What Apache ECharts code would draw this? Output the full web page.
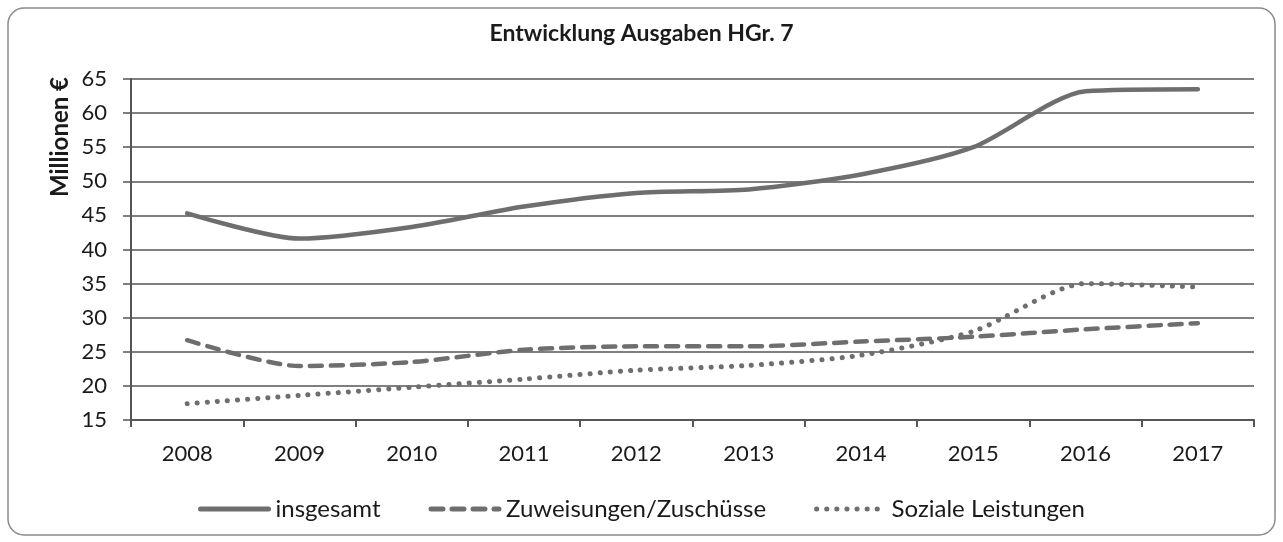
<!DOCTYPE html>
<html>
<head>
<meta charset="utf-8">
<script src="https://cdn.jsdelivr.net/npm/echarts@6/dist/echarts.min.js"></script>
<style>
  html, body { margin: 0; padding: 0; background: #fff; }
  #chart { width: 1283px; height: 542px; }
</style>
</head>
<body>
<div id="chart"></div>
<script>
const years = ['2008', '2009', '2010', '2011', '2012', '2013', '2014', '2015', '2016', '2017']
const insgesamt = [45.3, 41.6, 43.3, 46.3, 48.3, 48.8, 51.0, 55.0, 63.2, 63.5]
const zuweisungen = [26.7, 22.9, 23.5, 25.3, 25.8, 25.8, 26.5, 27.2, 28.3, 29.2]
const soziale = [17.4, 18.6, 19.8, 21.0, 22.3, 23.0, 24.5, 28.0, 35.0, 34.5]
const yTicks = { min: 15, max: 65, interval: 5 }

const font = 'Lato, "Open Sans", sans-serif'
const grey = '#6e6e6e'

const chart = echarts.init(document.getElementById('chart'))

function lineSeries(name, data, dash, width) {
  return {
    name: name,
    type: 'line',
    data: data,
    smooth: 0.25,
    symbol: 'none',
    lineStyle: { color: grey, width: width, type: dash, cap: 'round' },
    itemStyle: { color: grey }
  }
}

chart.setOption({
  backgroundColor: '#fff',
  animation: false,
  title: {
    text: 'Entwicklung Ausgaben HGr. 7',
    left: 'center',
    top: 17,
    textStyle: { fontFamily: font, fontWeight: 'bold', fontSize: 23, color: '#1a1a1a' }
  },
  graphic: [
    {
      type: 'rect',
      shape: { x: 8, y: 8, width: 1267, height: 527, r: 16 },
      style: { fill: 'none', stroke: '#8a8a8a', lineWidth: 1.5 },
      z: -1
    },
    {
      type: 'text',
      x: 60,
      y: 137,
      rotation: Math.PI / 2,
      style: {
        text: 'Millionen €',
        fontFamily: font,
        fontWeight: 'bold',
        fontSize: 24,
        fill: '#1a1a1a',
        align: 'center',
        verticalAlign: 'middle'
      }
    }
  ],
  legend: {
    top: 492,
    left: 'center',
    itemWidth: 68,
    itemHeight: 14,
    itemGap: 48,
    itemStyle: { opacity: 0 },
    lineStyle: { width: 5 },
    textStyle: { fontFamily: font, fontSize: 24, color: '#1a1a1a', padding: [0, 0, 0, 2] },
    data: ['insgesamt', 'Zuweisungen/Zuschüsse', 'Soziale Leistungen']
  },
  grid: { left: 131, right: 29, top: 79, bottom: 122 },
  xAxis: {
    type: 'category',
    data: years,
    boundaryGap: true,
    axisLine: { lineStyle: { color: '#555', width: 2 } },
    axisTick: { show: true, length: 7, lineStyle: { color: '#555', width: 2 } },
    axisLabel: { fontFamily: font, fontSize: 22, color: '#1a1a1a', margin: 23 }
  },
  yAxis: {
    type: 'value',
    min: yTicks.min,
    max: yTicks.max,
    interval: yTicks.interval,
    axisLine: { show: true, lineStyle: { color: '#555', width: 2 } },
    axisTick: { show: true, length: 8, lineStyle: { color: '#555', width: 1.5 } },
    axisLabel: { fontFamily: font, fontSize: 22, color: '#1a1a1a', margin: 24 },
    splitLine: { lineStyle: { color: '#555', width: 1.5 } }
  },
  series: [
    lineSeries('insgesamt', insgesamt, 'solid', 4.5),
    lineSeries('Zuweisungen/Zuschüsse', zuweisungen, [12, 9], 4.5),
    lineSeries('Soziale Leistungen', soziale, [0.1, 10], 5)
  ]
})
</script>
</body>
</html>
